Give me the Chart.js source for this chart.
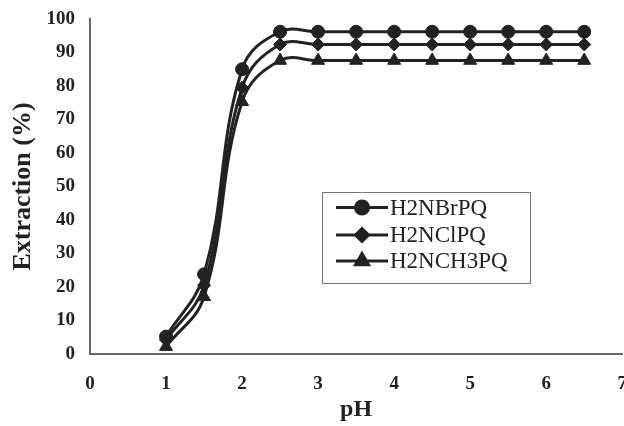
<!DOCTYPE html>
<html>
<head>
<meta charset="utf-8">
<script src="https://cdn.jsdelivr.net/npm/chart.js@4/dist/chart.umd.min.js"></script>
<style>
html,body{margin:0;padding:0;overflow:hidden;background:#fff;width:624px;height:426px;}
#wrap{position:absolute;left:0;top:0;width:640px;height:426px;}
</style>
</head>
<body>
<div id="wrap"><canvas id="c"></canvas></div>
<script>
const pH = [1, 1.5, 2, 2.5, 3, 3.5, 4, 4.5, 5, 5.5, 6, 6.5];
const brPQ = [5.2, 23.8, 85, 96.2, 96.2, 96.2, 96.2, 96.2, 96.2, 96.2, 96.2, 96.2];
const clPQ = [4.2, 20.5, 79.5, 92.4, 92.4, 92.4, 92.4, 92.4, 92.4, 92.4, 92.4, 92.4];
const ch3PQ = [2.2, 17.1, 75.3, 87.6, 87.6, 87.6, 87.6, 87.6, 87.6, 87.6, 87.6, 87.6];
const seriesNames = ['H2NBrPQ', 'H2NClPQ', 'H2NCH3PQ'];
const xTicks = [0, 1, 2, 3, 4, 5, 6, 7];
const yTicks = [0, 10, 20, 30, 40, 50, 60, 70, 80, 90, 100];

const ink = '#222';
function mk(name, vals, style, r) {
  return {
    label: name,
    data: pH.map((x, i) => ({x: x, y: vals[i]})),
    borderColor: ink, backgroundColor: ink,
    borderWidth: 3, tension: 0.4,
    pointStyle: style, pointRadius: r, pointHoverRadius: r,
    pointBackgroundColor: ink, pointBorderColor: ink, pointBorderWidth: 1
  };
}

const legendPlugin = {
  id: 'boxLegend',
  afterDraw(chart) {
    const ctx = chart.ctx;
    const bx = 322, by = 192, bw = 208, bh = 91;
    ctx.save();
    ctx.strokeStyle = '#777';
    ctx.lineWidth = 1;
    ctx.strokeRect(bx + 0.5, by + 0.5, bw, bh);
    const rows = [207.5, 235, 261];
    chart.data.datasets.forEach((ds, i) => {
      const y = rows[i];
      ctx.strokeStyle = ink; ctx.lineWidth = 3;
      ctx.beginPath(); ctx.moveTo(336, y); ctx.lineTo(388, y); ctx.stroke();
      ctx.fillStyle = ink;
      Chart.helpers.drawPoint(ctx, {pointStyle: ds.pointStyle, radius: ds.pointRadius, rotation: 0, borderWidth: 1}, 362, y);
      ctx.fillStyle = '#222';
      ctx.font = '23px "Liberation Serif", "Times New Roman", serif';
      ctx.textBaseline = 'middle';
      ctx.textAlign = 'left';
      ctx.fillText(ds.label, 390, y + 1);
    });
    ctx.restore();
  }
};

new Chart(document.getElementById('c'), {
  type: 'line',
  data: {
    datasets: [
      mk(seriesNames[0], brPQ, 'circle', 6.5),
      mk(seriesNames[1], clPQ, 'rectRot', 6.5),
      mk(seriesNames[2], ch3PQ, 'triangle', 7.5)
    ]
  },
  options: {
    responsive: true,
    maintainAspectRatio: false,
    animation: false,
    events: [],
    layout: {padding: {top: 19, right: 13, left: 0, bottom: 0}},
    plugins: {legend: {display: false}, tooltip: {enabled: false}},
    scales: {
      x: {
        type: 'linear', min: 0, max: 7,
        afterBuildTicks(s) { s.ticks = xTicks.map(v => ({value: v})); },
        afterFit(s) { s.height = 72; },
        grid: {display: false, drawTicks: true, tickLength: 6, tickColor: '#666'},
        border: {display: true, color: '#666', width: 2},
        ticks: {color: '#222', padding: 13, maxRotation: 0, autoSkip: false,
          font: {family: '"Liberation Serif", serif', size: 19, weight: 'bold'}},
        title: {display: true, text: 'pH', color: '#222', padding: {top: 0, bottom: 2},
          font: {family: '"Liberation Serif", serif', size: 24, weight: 'bold'}}
      },
      y: {
        min: 0, max: 100,
        afterBuildTicks(s) { s.ticks = yTicks.map(v => ({value: v})); },
        afterFit(s) { s.width = 90; },
        grid: {display: false, drawTicks: true, tickLength: 9, tickColor: '#666'},
        border: {display: true, color: '#666', width: 2},
        ticks: {color: '#222', padding: 6, autoSkip: false,
          font: {family: '"Liberation Serif", serif', size: 19, weight: 'bold'}},
        title: {display: true, text: 'Extraction (%)', color: '#222', padding: {top: 8, bottom: 0},
          font: {family: '"Liberation Serif", serif', size: 26, weight: 'bold'}}
      }
    }
  },
  plugins: [legendPlugin]
});
</script>
</body>
</html>
